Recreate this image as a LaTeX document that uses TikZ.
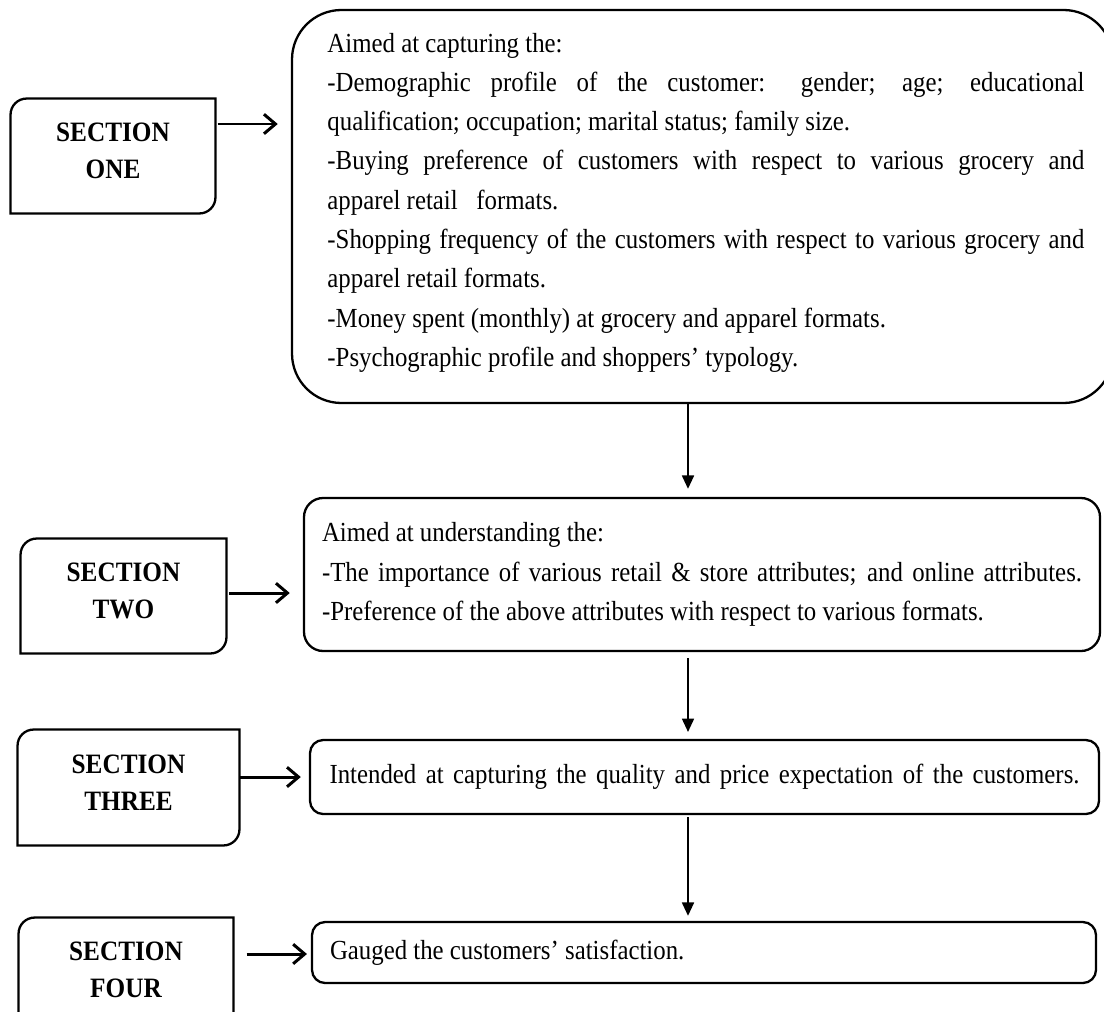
\documentclass[tikz,border=0pt]{standalone}
\usepackage{fontspec}
\setmainfont[FakeStretch=0.9]{Liberation Serif}
\usetikzlibrary{arrows.meta,calc}
\newdimen\px \px=0.435pt
\newcommand\bodyfont{\fontsize{12}{17.1}\selectfont}
\newcommand\secfont{\fontsize{12.2}{16.1}\selectfont\bfseries}
% frame with rounded top-left and bottom-right corners
\newcommand\secframe[1]{%
  \draw[frame] (#1.south west) -- ([yshift=-7pt]#1.north west)
    arc[start angle=180,end angle=90,radius=7pt] -- (#1.north east)
    -- ([yshift=7pt]#1.south east)
    arc[start angle=0,end angle=-90,radius=7pt] -- cycle;}
\begin{document}
\begin{tikzpicture}[x=\px,y=-\px,
  frame/.style={line width=1pt},
  secbox/.style={inner sep=0pt},
  sectext/.style={font=\secfont,align=center,yshift=2.2pt},
  bigbox/.style={draw,line width=1pt,inner sep=0pt},
  textbox/.style={draw,line width=1pt,inner xsep=18\px,inner ysep=0pt,
    align=flush left,font=\bodyfont},
  harrow/.style={line width=1.3pt,-{Straight Barb[length=5pt,width=8.5pt]}},
  varrow/.style={line width=0.8pt,-{Triangle[length=5.8pt,width=5.2pt]}}]
\useasboundingbox (0,0) rectangle (1104,1011);

% section labels
\node[secbox,minimum width=204\px,minimum height=114\px,
  label={[sectext]center:SECTION\\ONE}] (s1) at (113,156) {};
\node[secbox,minimum width=205\px,minimum height=114\px,
  label={[sectext]center:SECTION\\TWO}] (s2) at (123.5,596) {};
\node[secbox,minimum width=221\px,minimum height=115\px,
  label={[sectext]center:SECTION\\THREE}] (s3) at (128.5,787.5) {};
\node[secbox,minimum width=214\px,minimum height=114\px,
  label={[sectext]center:SECTION\\FOUR}] (s4) at (126,975) {};
\secframe{s1}
\secframe{s2}
\secframe{s3}
\secframe{s4}

% description boxes
\node[bigbox,rounded corners=21.5pt,minimum width=821\px,minimum height=393\px]
  (b1) at (702.5,206.5) {};
\node[anchor=base west,inner sep=0pt,text width=757\px,align=justify,font=\bodyfont]
  (t1) at (327,52)
{\parindent=0pt\hyphenpenalty=10000\exhyphenpenalty=10000
Aimed at capturing the:\par
-Demographic profile of the customer: gender; age; educational\linebreak
qualification; occupation; marital status; family size.\par
-Buying preference of customers with respect to various grocery and\linebreak
apparel retail\ \ \ formats.\par
-Shopping frequency of the customers with respect to various grocery and\linebreak
apparel retail formats.\par
-Money spent (monthly) at grocery and apparel formats.\par
-Psychographic profile and shoppers’ typology.\par};

\node[textbox,align=justify,rounded corners=8.3pt,text width=760\px,minimum height=153\px]
  (b2) at (702,574.5)
  {\parindent=0pt\hyphenpenalty=10000
   Aimed at understanding the:\par
   {\parfillskip=0pt -The importance of various retail \& store attributes; and online attributes.\par}
   -Preference of the above attributes with respect to various formats.\par};
\node[textbox,align=justify,rounded corners=5.7pt,text width=750\px,
  minimum width=789\px,minimum height=74\px]
  (b3) at (704.5,777)
  {\parindent=0pt\hyphenpenalty=10000\parfillskip=0pt
   Intended at capturing the quality and price expectation of the customers.\par};
\node[textbox,rounded corners=5.7pt,text width=748\px,minimum height=61\px]
  (b4) at (704,952.5)
  {Gauged the customers’ satisfaction.};

% horizontal connectors
\coordinate (r1) at (0,124);
\coordinate (r2) at (0,593);
\coordinate (r3) at (0,777);
\coordinate (r4) at (0,954);
\draw[harrow,shorten <=0.9pt,shorten >=5.7pt] (s1.east |- r1) -- (b1.west |- r1);
\draw[harrow,shorten <=1.3pt,shorten >=5.7pt] (s2.east |- r2) -- (b2.west |- r2);
\draw[harrow,shorten <=0.4pt,shorten >=3.5pt] (s3.east |- r3) -- (b3.west |- r3);
\draw[harrow,shorten <=5.7pt,shorten >=1.7pt] (s4.east |- r4) -- (b4.west |- r4);

% vertical connectors
\coordinate (vx) at (688,0);
\draw[varrow,shorten >=3.5pt] (b1.south -| vx) -- (b2.north -| vx);
\draw[varrow,shorten <=2.6pt,shorten >=3pt] (b2.south -| vx) -- (b3.north -| vx);
\draw[varrow,shorten <=1pt,shorten >=2.2pt] (b3.south -| vx) -- (b4.north -| vx);
\end{tikzpicture}
\end{document}
